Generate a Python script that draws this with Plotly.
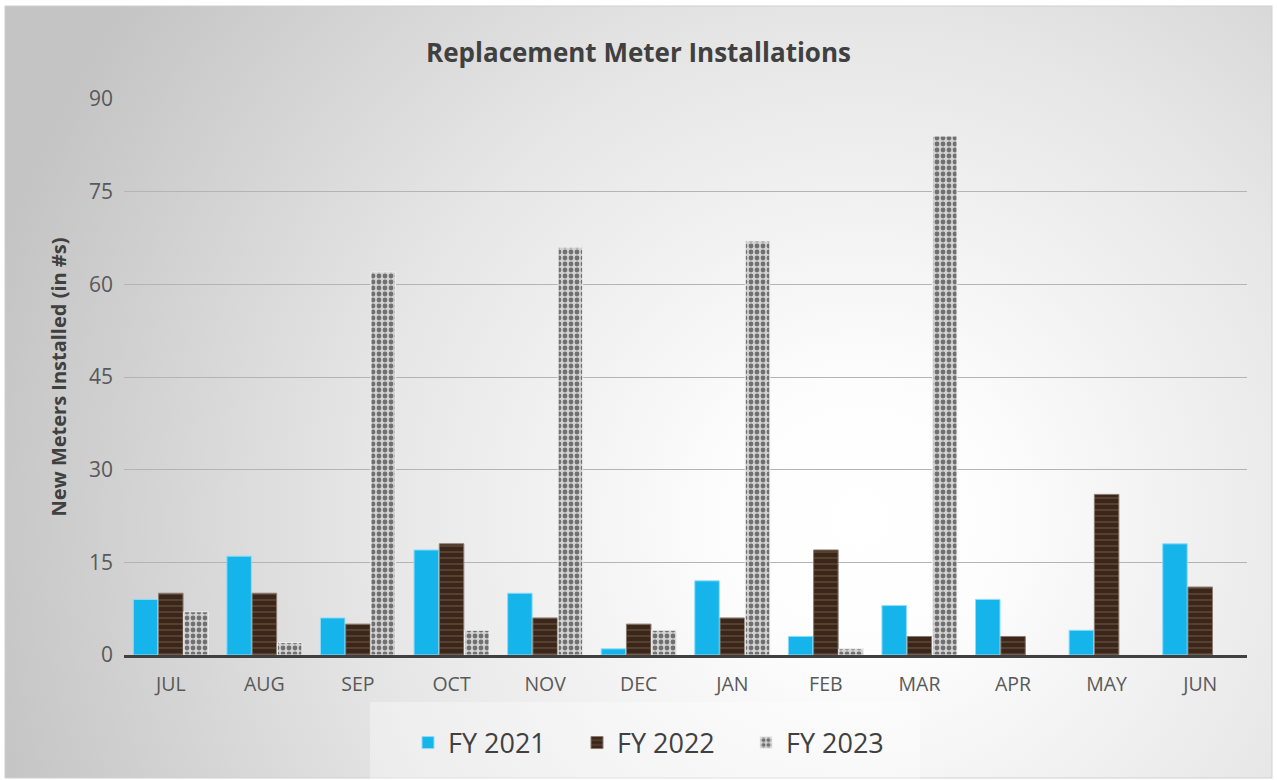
import base64
import plotly.graph_objects as go

months = ["JUL", "AUG", "SEP", "OCT", "NOV", "DEC", "JAN", "FEB", "MAR", "APR", "MAY", "JUN"]
fy2021 = [9, 16, 6, 17, 10, 1, 12, 3, 8, 9, 4, 18]
fy2022 = [10, 10, 5, 18, 6, 5, 6, 17, 3, 3, 26, 11]
fy2023 = [7, 2, 62, 4, 66, 4, 67, 1, 84, 0, 0, 0]
y_ticks = [0, 15, 30, 45, 60, 75, 90]

W, H = 1277, 780
L, R, T, B = 124, 30, 99, 125
pw, ph = W - L - R, H - T - B

svg = f'''<svg xmlns="http://www.w3.org/2000/svg" width="{W}" height="{H}" viewBox="0 0 {W} {H}" preserveAspectRatio="none">
<defs><radialGradient id="g" gradientUnits="userSpaceOnUse" cx="860" cy="520" r="900">
<stop offset="0" stop-color="#ffffff"/><stop offset="0.15" stop-color="#fdfdfd"/>
<stop offset="0.55" stop-color="#e6e6e6"/><stop offset="1" stop-color="#c4c4c4"/></radialGradient></defs>
<rect x="0" y="0" width="{W}" height="{H}" fill="#ffffff"/>
<rect x="5" y="6" width="{W-10}" height="{H-8}" fill="url(#g)" stroke="#d0d0d0" stroke-width="1"/>
<rect x="370" y="702" width="550" height="78" fill="#ffffff" fill-opacity="0.35"/>
</svg>'''
src = "data:image/svg+xml;base64," + base64.b64encode(svg.encode()).decode()

fig = go.Figure()
fig.add_trace(go.Bar(
    name="FY 2021", x=months, y=fy2021,
    marker=dict(color="#15b5ec", line=dict(color="#8fdcf7", width=1)),
))
fig.add_trace(go.Bar(
    name="FY 2022", x=months, y=fy2022,
    marker=dict(color="#3e2b1e", line=dict(color="#8a7a70", width=1),
                pattern=dict(shape="-", fgcolor="#5a4333", bgcolor="#3a2719",
                             size=6, solidity=0.3, fillmode="replace")),
))
fig.add_trace(go.Bar(
    name="FY 2023", x=months, y=fy2023,
    marker=dict(color="#c0c0c0", line=dict(color="#eeeeee", width=1),
                pattern=dict(shape=".", fgcolor="#707070", bgcolor="#d2d2d2",
                             size=6, solidity=0.5, fillmode="replace")),
))

fig.update_layout(
    width=W, height=H,
    margin=dict(l=L, r=R, t=T, b=B),
    paper_bgcolor="rgba(0,0,0,0)",
    plot_bgcolor="rgba(0,0,0,0)",
    font=dict(family="Open Sans", color="#595959"),
    barmode="group", bargap=0.19, bargroupgap=0.03,
    title=dict(text="<b>Replacement Meter Installations</b>", x=0.5, xanchor="center",
               y=1 - 53 / H, yanchor="middle",
               font=dict(size=26, color="#404040", family="Open Sans")),
    showlegend=True,
    legend=dict(orientation="h", x=0.5 - 24 / pw, xanchor="center", y=-(743 - T - ph) / ph, yanchor="middle",
                font=dict(size=27, color="#404040"), entrywidth=124, entrywidthmode="pixels",
                bgcolor="rgba(0,0,0,0)", traceorder="normal"),
    images=[dict(source=src, xref="paper", yref="paper",
                 x=-L / pw, y=1 + T / ph, sizex=W / pw, sizey=H / ph,
                 xanchor="left", yanchor="top", sizing="stretch", layer="below")],
)
fig.update_yaxes(
    range=[0, 90], tickvals=y_ticks, ticktext=[str(v) for v in y_ticks],
    showgrid=True, gridcolor="#b4b4b4", gridwidth=1,
    zeroline=False, showline=False,
    tickfont=dict(size=21, color="#595959"), ticks="", ticklabelstandoff=10,
    title=dict(text="<b>New Meters Installed (in #s)</b>", standoff=16,
               font=dict(size=20, color="#404040")),
)
fig.update_xaxes(
    showline=True, linecolor="#404040", linewidth=3,
    tickfont=dict(size=19.5, color="#595959"), ticks="", ticklabelstandoff=10,
)

fig.write_html("out.html", config={"displayModeBar": False},
               post_script="document.body.style.margin='0';")
